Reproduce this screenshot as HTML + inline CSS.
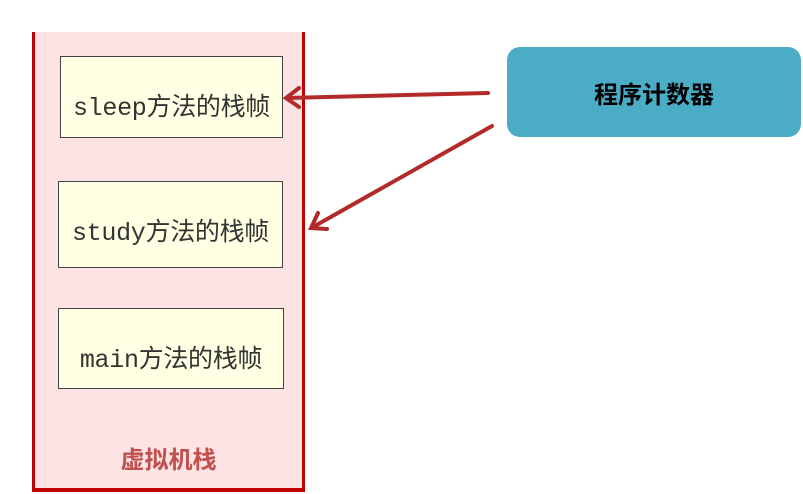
<!DOCTYPE html>
<html><head><meta charset="utf-8"><style>
body{margin:0;width:803px;height:494px;background:#fff;position:relative;overflow:hidden;font-family:"Liberation Sans","Noto Sans CJK SC",sans-serif}
.stack{position:absolute;left:32px;top:32px;width:267px;height:456px;background:#fde3e3;border:3px solid #c00000;border-top:none;border-bottom-width:4px}
.f{position:absolute;background:#ffffe3;border:1.5px solid #444;box-sizing:border-box}
.t{position:absolute;left:0;right:0;text-align:center;font-family:"Liberation Mono","Noto Sans CJK SC",monospace;font-size:25px;color:#333;line-height:28px;white-space:nowrap;letter-spacing:-0.3px}
.pc{position:absolute;left:507px;top:47px;width:294px;height:90px;background:#4bacc6;border-radius:13px;display:flex;align-items:center;justify-content:center;font-weight:bold;font-size:24px;color:#000}
.lbl{position:absolute;left:32px;width:273px;top:446px;text-align:center;color:#c0504d;font-weight:bold;font-size:24px;line-height:30px}
</style></head><body>
<div class="stack"></div>
<div class="f" style="left:60px;top:56px;width:223px;height:82px"><div class="t" style="top:38px">sleep方法的栈帧</div></div>
<div class="f" style="left:58px;top:181px;width:225px;height:87px"><div class="t" style="top:38px">study方法的栈帧</div></div>
<div class="f" style="left:58px;top:308px;width:226px;height:81px"><div class="t" style="top:38px">main方法的栈帧</div></div>
<div class="lbl">虚拟机栈</div>
<div class="pc">程序计数器</div>
<svg width="803" height="494" style="position:absolute;left:0;top:0">
<g stroke="#b22a2a" stroke-width="4" fill="none" stroke-linecap="round">
<line x1="488" y1="93" x2="287" y2="98"/>
<polyline points="299,88 286,98 299,107"/>
<line x1="492" y1="126" x2="313" y2="227"/>
<polyline points="318,213 311,228 327,229"/>
</g>
</svg>
</body></html>
